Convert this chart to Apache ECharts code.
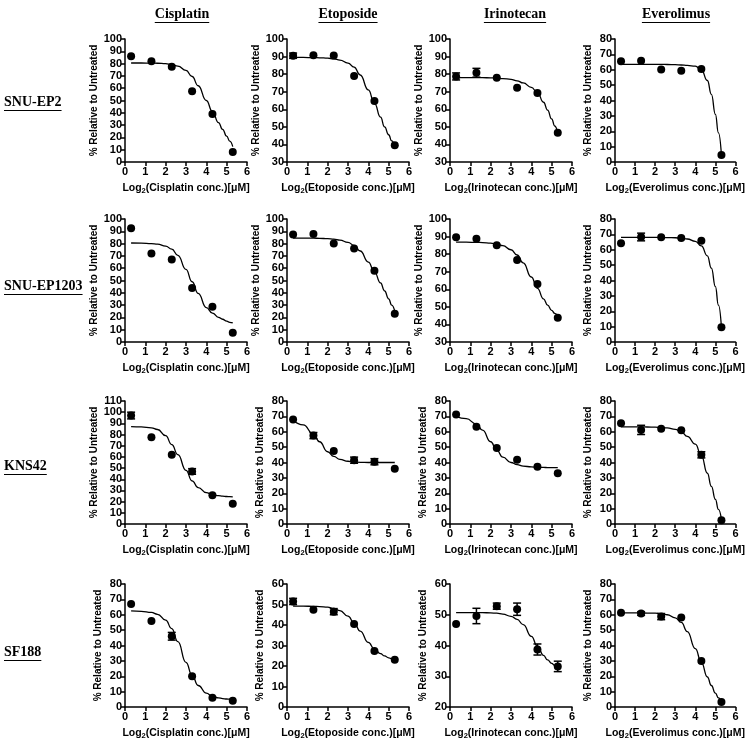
<!DOCTYPE html>
<html>
<head>
<meta charset="utf-8">
<title>Dose response grid</title>
<script src="https://cdn.jsdelivr.net/npm/echarts@6/dist/echarts.min.js"></script>
<style>
  html, body { margin: 0; padding: 0; background: #fff; }
  #chart { width: 747px; height: 741px; }
</style>
</head>
<body>
<div id="chart"></div>
<script>
// 药物（列）和细胞系（行）
const drugs = ['Cisplatin', 'Etoposide', 'Irinotecan', 'Everolimus'];
const cellLines = ['SNU-EP2', 'SNU-EP1203', 'KNS42', 'SF188'];

// 剂量点 log2(conc.)
const doseX = [0.3, 1.3, 2.3, 3.3, 4.3, 5.3];
// 拟合曲线读取的 x 位置
const fitX = [0.3, 0.8, 1.3, 1.6, 2.0, 2.3, 2.6, 3.0, 3.3, 3.6, 4.0, 4.3, 4.6, 4.8, 5.0, 5.15, 5.3];

// y 轴范围，每行四个面板
const yMin = [[0, 30, 30, 0], [0, 0, 30, 0], [0, 0, 0, 0], [0, 0, 20, 0]];
const yMax = [[100, 100, 100, 80], [100, 100, 100, 80], [110, 80, 80, 80], [80, 60, 60, 80]];

// SNU-EP2
const ep2Mean = [
  [86, 82, 77.5, 57.5, 39, 8.2],
  [90.5, 90.8, 90.6, 79, 64.7, 39.5],
  [78.7, 80.8, 78, 72.2, 69.3, 46.6],
  [65.5, 65.8, 60.2, 59.3, 60.5, 4.5]
];
const ep2Err = [
  [0, 0, 0, 0, 0, 0],
  [1.5, 0, 0, 0, 0, 0],
  [2, 2.5, 0, 0, 0, 0],
  [0, 0, 0, 0, 0, 0]
];
const ep2Fit = [
  [80.5, 80.5, 80.4, 80.3, 80, 79.3, 78, 74.5, 69.5, 62, 50, 41, 32, 26.5, 21, 17, 12.5],
  [89.5, 89.5, 89.4, 89.3, 89.1, 88.7, 88, 86.3, 84, 79.5, 71, 63.5, 55.5, 50, 45.5, 42, 39],
  [78, 78, 78, 78, 77.9, 77.8, 77.5, 77, 76.2, 75, 72.5, 69.5, 64, 59.5, 54.5, 50.5, 46.5],
  [63.5, 63.5, 63.5, 63.5, 63.5, 63.5, 63.4, 63.3, 63.1, 62.8, 62.3, 60, 53, 44, 31, 19, 4.5]
];

// SNU-EP1203
const ep1203Mean = [
  [92.5, 72, 67, 44, 28.7, 7.5],
  [87.5, 87.8, 80, 76, 58, 23],
  [89.6, 88.7, 85, 76.6, 63, 43.8],
  [64.2, 68.3, 68.2, 67.6, 65.8, 9.6]
];
const ep1203Err = [
  [0, 0, 0, 0, 0, 0],
  [0, 0, 0, 0, 0, 0],
  [0, 0, 0, 0, 0, 0],
  [0, 2.5, 0, 0, 0, 0]
];
const ep1203Fit = [
  [80.5, 80.4, 80, 79.5, 78, 75.5, 70.5, 59, 49, 39.5, 28, 23.5, 20, 18.5, 17, 16, 15.5],
  [84.5, 84.5, 84.4, 84.3, 84, 83.6, 82.8, 81, 78.5, 74, 65, 57, 48, 41.5, 35, 30, 25],
  [86.8, 86.8, 86.7, 86.6, 86.3, 85.8, 84.8, 82.5, 79.5, 75, 67, 60.5, 54.5, 51, 48, 46.3, 45],
  [68, 68, 68, 68, 68, 68, 67.9, 67.8, 67.5, 67, 65.5, 62.5, 56, 48, 36, 24, 9.5]
];

// KNS42
const knsMean = [
  [97, 77.5, 62, 47, 25.8, 18.2],
  [68, 57.5, 47.5, 41.5, 40.5, 36],
  [71.3, 63.3, 49.4, 41.8, 37.3, 33],
  [65.5, 61.2, 62, 61, 45, 2.5]
];
const knsErr = [
  [3, 0, 0, 2.5, 0, 0],
  [0, 2, 0, 2, 2, 0],
  [0, 0, 0, 0, 0, 0],
  [0, 3, 0, 0, 2, 0]
];
const knsFit = [
  [87, 86.8, 86, 84.5, 79, 71, 62, 48, 38.5, 32.5, 28, 26.3, 25.3, 24.9, 24.6, 24.4, 24.3],
  [67.5, 64.5, 58.5, 53.5, 47, 44, 42, 40.8, 40.3, 40.1, 40, 40, 40, 40, 40, 40, 40],
  [70, 68.5, 65, 61, 53.5, 48, 43.5, 40, 38.6, 37.7, 37.1, 36.9, 36.8, 36.7, 36.7, 36.7, 36.7],
  [63.2, 63.2, 63.2, 63.1, 63, 62.8, 62.5, 61.5, 60, 57, 52, 44.5, 33, 24.5, 16, 9.5, 3]
];

// SF188
const sfMean = [
  [67, 56, 46, 20, 6, 4],
  [51.5, 47.5, 46.5, 40.5, 27.3, 23],
  [47, 49.6, 52.8, 51.8, 38.7, 33.2],
  [61.3, 60.8, 58.8, 58.2, 30, 3.2]
];
const sfErr = [
  [0, 0, 2.5, 0, 0, 0],
  [1.5, 0, 1.5, 0, 0, 0],
  [0, 2.5, 1, 2, 1.8, 1.7],
  [0, 1.2, 2, 0, 0, 0]
];
const sfFit = [
  [62.5, 62.2, 61.5, 60.3, 56.5, 51, 42.5, 29, 20.5, 14, 9, 7, 5.9, 5.5, 5.2, 5.1, 5],
  [49.2, 49.2, 49.1, 49, 48.7, 48.1, 47, 44.3, 41, 37, 31.5, 28.3, 26, 24.9, 24, 23.5, 23],
  [50.7, 50.7, 50.7, 50.7, 50.6, 50.5, 50.2, 49.5, 48.5, 46.8, 43, 39.8, 36.8, 35.3, 34.2, 33.5, 33],
  [61.2, 61.2, 61.2, 61.1, 61, 60.7, 60, 58, 55, 49, 38, 29, 19.5, 14, 9, 6, 3.5]
];

const allMean = [ep2Mean, ep1203Mean, knsMean, sfMean];
const allErr = [ep2Err, ep1203Err, knsErr, sfErr];
const allFit = [ep2Fit, ep1203Fit, knsFit, sfFit];

// 布局
const colLeft = [125, 287, 450, 615];
const rowTop = [39, 219, 401, 584];
const plotW = 122, plotH = 123;

const sans = 'Liberation Sans, Arial, sans-serif';
const axisFont = { color: '#000', fontFamily: sans, fontWeight: 'bold', fontSize: 11 };
const axisLineStyle = { color: '#000', width: 1.5 };

let grids = [], xAxes = [], yAxes = [], series = [];

for (let r = 0; r < 4; r++) {
  for (let c = 0; c < 4; c++) {
    const i = r * 4 + c;
    grids.push({ left: colLeft[c], top: rowTop[r], width: plotW, height: plotH });
    xAxes.push({
      gridIndex: i, type: 'value', min: 0, max: 6, interval: 1,
      axisLine: { onZero: false, lineStyle: axisLineStyle },
      axisTick: { length: 4, lineStyle: axisLineStyle },
      axisLabel: Object.assign({ margin: 4 }, axisFont),
      splitLine: { show: false },
      name: '{n|Log}{s|2}{n|(' + drugs[c] + ' conc.)[μM]}',
      nameLocation: 'middle', nameGap: 19,
      nameTextStyle: {
        rich: {
          n: { fontFamily: sans, fontWeight: 'bold', fontSize: 10.5, color: '#000' },
          s: { fontFamily: sans, fontWeight: 'bold', fontSize: 7.5, color: '#000', padding: [6, 0, 0, 0] }
        }
      }
    });
    yAxes.push({
      gridIndex: i, type: 'value', min: yMin[r][c], max: yMax[r][c], interval: 10,
      axisLine: { onZero: false, lineStyle: axisLineStyle },
      axisTick: { length: 4, lineStyle: axisLineStyle },
      axisLabel: Object.assign({ margin: 3 }, axisFont),
      splitLine: { show: false },
      name: '% Relative to Untreated',
      nameLocation: 'middle', nameGap: 22,
      nameTextStyle: { fontFamily: sans, fontWeight: 'bold', fontSize: 10, color: '#000' }
    });

    // 拟合曲线
    series.push({
      type: 'line', xAxisIndex: i, yAxisIndex: i,
      data: fitX.map((x, k) => [x, allFit[r][c][k]]),
      showSymbol: false, smooth: 0.5, smoothMonotone: 'x',
      lineStyle: { color: '#000', width: 1.3 },
      silent: true, z: 2
    });
    // 数据点
    series.push({
      type: 'scatter', xAxisIndex: i, yAxisIndex: i,
      data: doseX.map((x, k) => [x, allMean[r][c][k]]),
      symbol: 'circle', symbolSize: 8,
      itemStyle: { color: '#000', opacity: 1 }, z: 3
    });
    // 误差线
    const errData = [];
    doseX.forEach((x, k) => {
      const e = allErr[r][c][k];
      if (e > 0) errData.push([x, allMean[r][c][k] - e, allMean[r][c][k] + e]);
    });
    series.push({
      type: 'custom', xAxisIndex: i, yAxisIndex: i,
      data: errData, z: 3,
      renderItem: function (params, api) {
        const lo = api.coord([api.value(0), api.value(1)]);
        const hi = api.coord([api.value(0), api.value(2)]);
        const w = 4;
        const st = { stroke: '#000', lineWidth: 1.5 };
        return {
          type: 'group',
          children: [
            { type: 'line', shape: { x1: lo[0], y1: lo[1], x2: hi[0], y2: hi[1] }, style: st },
            { type: 'line', shape: { x1: lo[0] - w, y1: lo[1], x2: lo[0] + w, y2: lo[1] }, style: st },
            { type: 'line', shape: { x1: hi[0] - w, y1: hi[1], x2: hi[0] + w, y2: hi[1] }, style: st }
          ]
        };
      }
    });
  }
}

// 带下划线的标题
const ctx = document.createElement('canvas').getContext('2d');
ctx.font = 'bold 14px "Liberation Serif"';
function underlined(text, x, y, align) {
  const w = ctx.measureText(text).width;
  const x0 = align === 'center' ? x - w / 2 : x;
  return [
    { type: 'text', left: x0, top: y - 8, style: { text: text, fontFamily: 'Liberation Serif', fontWeight: 'bold', fontSize: 14, fill: '#000' } },
    { type: 'rect', shape: { x: x0, y: y + 7, width: w, height: 1 }, style: { fill: '#000' } }
  ];
}

let graphics = [];
const titleX = [182, 348, 515, 676];
drugs.forEach((d, c) => { graphics = graphics.concat(underlined(d, titleX[c], 15, 'center')); });
const labelY = [103, 287, 467, 653];
cellLines.forEach((l, r) => { graphics = graphics.concat(underlined(l, 4, labelY[r], 'left')); });

const chart = echarts.init(document.getElementById('chart'));
chart.setOption({
  animation: false,
  backgroundColor: '#fff',
  grid: grids,
  xAxis: xAxes,
  yAxis: yAxes,
  series: series,
  graphic: graphics
});
</script>
</body>
</html>
